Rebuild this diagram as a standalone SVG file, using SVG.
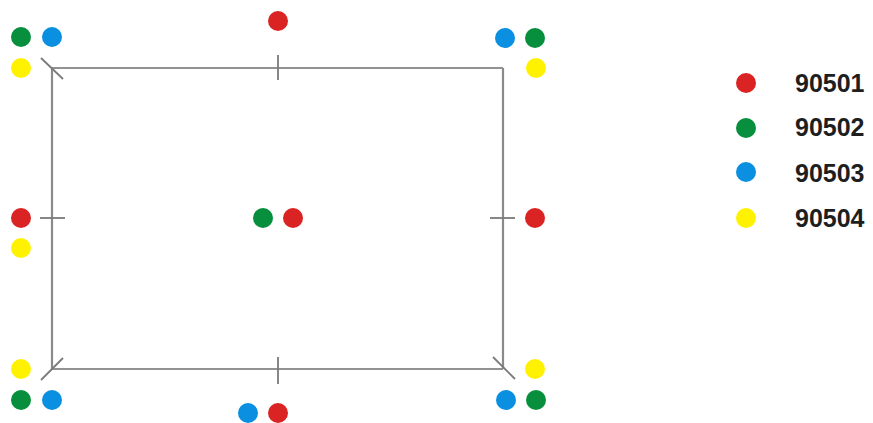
<svg xmlns="http://www.w3.org/2000/svg" width="873" height="423" viewBox="0 0 873 423">
<style>
.r{fill:#da2424}.g{fill:#078f3d}.b{fill:#0b8fe0}.y{fill:#fff200}
.edge{stroke:#6e6e6e;stroke-width:1.3;fill:none}
.side{stroke:#8a8a8a;stroke-width:2.2;fill:none}
.tick{stroke:#7a7a7a;stroke-width:1.8;fill:none}
text{font-family:"Liberation Sans",Arial,sans-serif;font-weight:bold;font-size:25px;fill:#1e1e1e}
</style>
<rect width="873" height="423" fill="#fff"/>
<g id="connectors">
<line class="edge" x1="52" y1="68" x2="503" y2="68"/>
<line class="edge" x1="52" y1="369" x2="503" y2="369"/>
<line class="side" x1="52" y1="68" x2="52" y2="369"/>
<line class="side" x1="503" y1="68" x2="503" y2="369"/>
<line class="tick" x1="41" y1="58" x2="63" y2="79"/>
<line class="tick" x1="41" y1="380" x2="63" y2="358"/>
<line class="tick" x1="493" y1="357" x2="515" y2="379"/>
<line class="tick" x1="278" y1="55" x2="278" y2="80"/>
<line class="tick" x1="278" y1="357" x2="278" y2="384"/>
<line class="tick" x1="40" y1="218" x2="65" y2="218"/>
<line class="tick" x1="490" y1="218" x2="515" y2="218"/>
</g>
<g id="top-left"><circle class="g" cx="21" cy="37" r="10"/><circle class="b" cx="52" cy="37" r="10"/><circle class="y" cx="21" cy="68" r="10"/></g>
<g id="top-mid"><circle class="r" cx="278" cy="21" r="10"/></g>
<g id="top-right"><circle class="b" cx="505" cy="38" r="10"/><circle class="g" cx="535" cy="38" r="10"/><circle class="y" cx="536" cy="68" r="10"/></g>
<g id="left-mid"><circle class="r" cx="21" cy="218" r="10"/><circle class="y" cx="21" cy="248" r="10"/></g>
<g id="center"><circle class="g" cx="263" cy="218" r="10"/><circle class="r" cx="293" cy="218" r="10"/></g>
<g id="right-mid"><circle class="r" cx="535" cy="218" r="10"/></g>
<g id="bottom-left"><circle class="y" cx="21" cy="369" r="10"/><circle class="g" cx="21" cy="400" r="10"/><circle class="b" cx="52" cy="400" r="10"/></g>
<g id="bottom-mid"><circle class="b" cx="248" cy="413" r="10"/><circle class="r" cx="278" cy="413" r="10"/></g>
<g id="bottom-right"><circle class="y" cx="535" cy="369" r="10"/><circle class="b" cx="506" cy="400" r="10"/><circle class="g" cx="536" cy="400" r="10"/></g>
<g id="legend">
<circle class="r" cx="746" cy="83" r="10"/><text x="795" y="92">90501</text>
<circle class="g" cx="746" cy="128" r="10"/><text x="795" y="136">90502</text>
<circle class="b" cx="746" cy="172" r="10"/><text x="795" y="182">90503</text>
<circle class="y" cx="746" cy="218" r="10"/><text x="795" y="227">90504</text>
</g>
</svg>
